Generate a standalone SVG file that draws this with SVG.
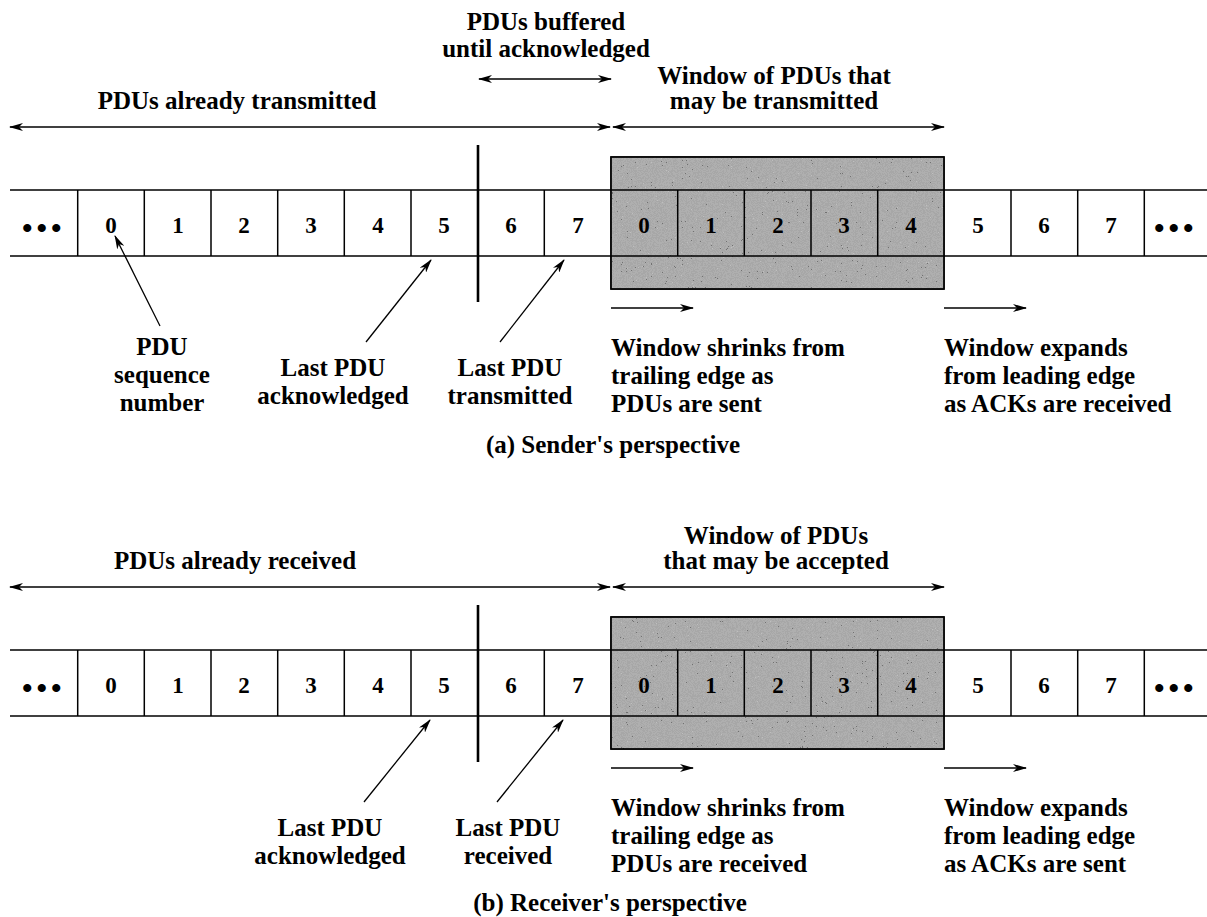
<svg xmlns="http://www.w3.org/2000/svg" width="1207" height="917" viewBox="0 0 1207 917">
<style>
  .t { font-family: "Liberation Serif", "Times New Roman", serif; font-weight: bold; font-size: 25px; fill: #000; }
  .d { font-family: "Liberation Serif", "Times New Roman", serif; font-weight: bold; font-size: 23px; fill: #000; text-anchor: middle; }
  .dots { font-family: "Liberation Serif", serif; font-weight: bold; font-size: 30px; fill: #000; letter-spacing: 4px; }
  .m { text-anchor: middle; }
  .ln { stroke: #000; stroke-width: 1.5; fill: none; }
  .thick { stroke: #000; stroke-width: 2.6; fill: none; }
  .arr { stroke: #000; stroke-width: 1.3; fill: none; marker-end: url(#ah); }
  .dbl { stroke: #000; stroke-width: 1.3; fill: none; marker-end: url(#ah); marker-start: url(#ah); }
  .win { fill: #a3a3a3; stroke: #000; stroke-width: 1.5; }
</style>
<defs>
  <marker id="ah" viewBox="0 0 14 8" refX="13" refY="4" markerWidth="14" markerHeight="8" markerUnits="userSpaceOnUse" orient="auto-start-reverse">
    <path d="M0,0 L14,4 L0,8 L4,4 z" fill="#000"/>
  </marker>
  <filter id="grain" x="0" y="0" width="100%" height="100%">
    <feTurbulence type="fractalNoise" baseFrequency="1.2" numOctaves="2" seed="7"/>
    <feColorMatrix type="matrix" values="0.5 0.5 0.5 0 -0.25  0.5 0.5 0.5 0 -0.25  0.5 0.5 0.5 0 -0.25  0 0 0 0 1"/>
    <feComponentTransfer>
      <feFuncR type="discrete" tableValues="0 0.45 0.6 1"/>
      <feFuncG type="discrete" tableValues="0 0.45 0.6 1"/>
      <feFuncB type="discrete" tableValues="0 0.45 0.6 1"/>
    </feComponentTransfer>
  </filter>
</defs>

<!-- ================= (a) Sender's perspective ================= -->
<g id="sender">
  <g id="a-labels-top">
    <text class="t m" x="546" y="30">PDUs buffered</text>
    <text class="t m" x="546" y="57">until acknowledged</text>
    <text class="t m" x="774" y="84">Window of PDUs that</text>
    <text class="t m" x="774" y="109">may be transmitted</text>
    <text class="t m" x="237" y="109">PDUs already transmitted</text>
  </g>
  <g id="a-window">
    <rect class="win" x="611" y="157" width="333" height="132"/>
    <rect x="611" y="157" width="333" height="132" filter="url(#grain)" opacity="0.3"/>
    <rect x="611" y="157" width="333" height="132" fill="none" stroke="#000" stroke-width="1.5"/>
  </g>
  <g id="a-row">
    <line class="ln" x1="10" y1="190" x2="1207" y2="190"/>
    <line class="ln" x1="10" y1="256" x2="1207" y2="256"/>
    <path class="ln" d="M77.7,190V256 M144.3,190V256 M211,190V256 M277.7,190V256 M344.3,190V256 M411,190V256 M544.3,190V256 M677.7,190V256 M744.3,190V256 M811,190V256 M877.7,190V256 M1011,190V256 M1077.7,190V256 M1144.3,190V256"/>
    <line class="thick" x1="478" y1="145" x2="478" y2="302"/>
  </g>
  <g id="a-cells">
    <text class="dots" x="22" y="238">•••</text>
    <text class="d" x="111" y="233">0</text>
    <text class="d" x="178" y="233">1</text>
    <text class="d" x="244" y="233">2</text>
    <text class="d" x="311" y="233">3</text>
    <text class="d" x="378" y="233">4</text>
    <text class="d" x="444" y="233">5</text>
    <text class="d" x="511" y="233">6</text>
    <text class="d" x="578" y="233">7</text>
    <text class="d" x="644" y="233">0</text>
    <text class="d" x="711" y="233">1</text>
    <text class="d" x="778" y="233">2</text>
    <text class="d" x="844" y="233">3</text>
    <text class="d" x="911" y="233">4</text>
    <text class="d" x="978" y="233">5</text>
    <text class="d" x="1044" y="233">6</text>
    <text class="d" x="1111" y="233">7</text>
    <text class="dots" x="1154" y="238">•••</text>
  </g>
  <g id="a-labels-bottom">
    <text class="t m" x="162" y="355">PDU</text>
    <text class="t m" x="162" y="383">sequence</text>
    <text class="t m" x="162" y="411">number</text>
    <text class="t m" x="333" y="376">Last PDU</text>
    <text class="t m" x="333" y="404">acknowledged</text>
    <text class="t m" x="510" y="376">Last PDU</text>
    <text class="t m" x="510" y="404">transmitted</text>
    <text class="t" x="611" y="356">Window shrinks from</text>
    <text class="t" x="611" y="384">trailing edge as</text>
    <text class="t" x="611" y="412">PDUs are sent</text>
    <text class="t" x="944" y="356">Window expands</text>
    <text class="t" x="944" y="384">from leading edge</text>
    <text class="t" x="944" y="412">as ACKs are received</text>
    <text class="t m" x="613" y="453">(a) Sender's perspective</text>
  </g>
</g>

<!-- ================= (b) Receiver's perspective ================= -->
<g id="receiver">
  <g id="b-labels-top">
    <text class="t m" x="776" y="544">Window of PDUs</text>
    <text class="t m" x="776" y="569">that may be accepted</text>
    <text class="t m" x="235" y="569">PDUs already received</text>
  </g>
  <g id="b-window">
    <rect class="win" x="611" y="617" width="333" height="132"/>
    <rect x="611" y="617" width="333" height="132" filter="url(#grain)" opacity="0.3"/>
    <rect x="611" y="617" width="333" height="132" fill="none" stroke="#000" stroke-width="1.5"/>
  </g>
  <g id="b-row">
    <line class="ln" x1="10" y1="650" x2="1207" y2="650"/>
    <line class="ln" x1="10" y1="716" x2="1207" y2="716"/>
    <path class="ln" d="M77.7,650V716 M144.3,650V716 M211,650V716 M277.7,650V716 M344.3,650V716 M411,650V716 M544.3,650V716 M677.7,650V716 M744.3,650V716 M811,650V716 M877.7,650V716 M1011,650V716 M1077.7,650V716 M1144.3,650V716"/>
    <line class="thick" x1="478" y1="605" x2="478" y2="762"/>
  </g>
  <g id="b-cells">
    <text class="dots" x="22" y="698">•••</text>
    <text class="d" x="111" y="693">0</text>
    <text class="d" x="178" y="693">1</text>
    <text class="d" x="244" y="693">2</text>
    <text class="d" x="311" y="693">3</text>
    <text class="d" x="378" y="693">4</text>
    <text class="d" x="444" y="693">5</text>
    <text class="d" x="511" y="693">6</text>
    <text class="d" x="578" y="693">7</text>
    <text class="d" x="644" y="693">0</text>
    <text class="d" x="711" y="693">1</text>
    <text class="d" x="778" y="693">2</text>
    <text class="d" x="844" y="693">3</text>
    <text class="d" x="911" y="693">4</text>
    <text class="d" x="978" y="693">5</text>
    <text class="d" x="1044" y="693">6</text>
    <text class="d" x="1111" y="693">7</text>
    <text class="dots" x="1154" y="698">•••</text>
  </g>
  <g id="b-labels-bottom">
    <text class="t m" x="330" y="836">Last PDU</text>
    <text class="t m" x="330" y="864">acknowledged</text>
    <text class="t m" x="508" y="836">Last PDU</text>
    <text class="t m" x="508" y="864">received</text>
    <text class="t" x="611" y="816">Window shrinks from</text>
    <text class="t" x="611" y="844">trailing edge as</text>
    <text class="t" x="611" y="872">PDUs are received</text>
    <text class="t" x="944" y="816">Window expands</text>
    <text class="t" x="944" y="844">from leading edge</text>
    <text class="t" x="944" y="872">as ACKs are sent</text>
    <text class="t m" x="610" y="911">(b) Receiver's perspective</text>
  </g>
</g>

<!-- ================= connectors ================= -->
<g id="connectors">
  <line class="dbl" x1="479" y1="79" x2="611" y2="79"/>
  <line class="dbl" x1="10" y1="127" x2="610" y2="127"/>
  <line class="dbl" x1="613" y1="127" x2="944" y2="127"/>
  <line class="arr" x1="160" y1="326" x2="115" y2="236"/>
  <line class="arr" x1="366" y1="342" x2="431" y2="260"/>
  <line class="arr" x1="500" y1="342" x2="564" y2="260"/>
  <line class="arr" x1="611" y1="308" x2="693" y2="308"/>
  <line class="arr" x1="944" y1="308" x2="1026" y2="308"/>

  <line class="dbl" x1="10" y1="587" x2="610" y2="587"/>
  <line class="dbl" x1="613" y1="587" x2="944" y2="587"/>
  <line class="arr" x1="364" y1="802" x2="430" y2="720"/>
  <line class="arr" x1="497" y1="802" x2="563" y2="720"/>
  <line class="arr" x1="611" y1="768" x2="693" y2="768"/>
  <line class="arr" x1="944" y1="768" x2="1026" y2="768"/>
</g>
</svg>
